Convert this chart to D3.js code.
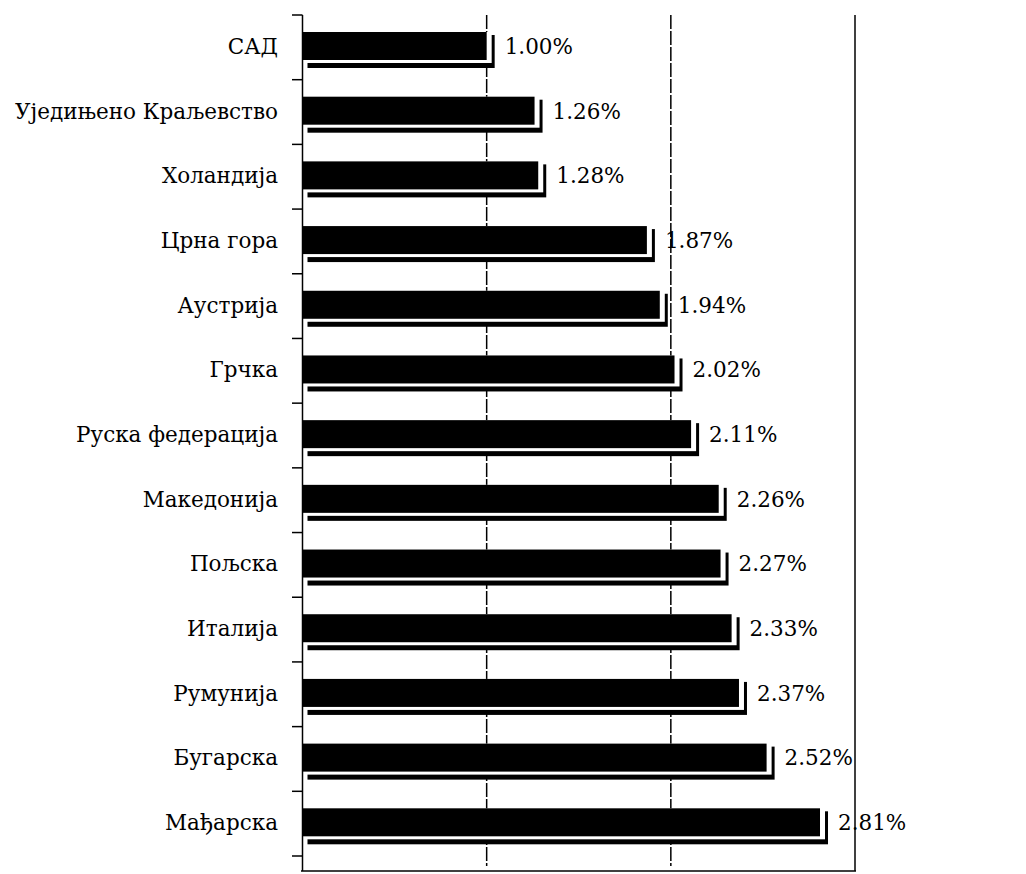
<!DOCTYPE html>
<html><head><meta charset="utf-8">
<script src="https://cdn.jsdelivr.net/npm/d3@7/dist/d3.min.js"></script>
<style>body{margin:0;background:#fff}svg{display:block}</style>
</head><body><svg id="c" width="1026" height="874"></svg>
<script>
const categories = ["САД","Уједињено Краљевство","Холандија","Црна гора","Аустрија","Грчка","Руска федерација","Македонија","Пољска","Италија","Румунија","Бугарска","Мађарска"];
const values = [1.00,1.26,1.28,1.87,1.94,2.02,2.11,2.26,2.27,2.33,2.37,2.52,2.81];
const valueLabels = ["1.00%","1.26%","1.28%","1.87%","1.94%","2.02%","2.11%","2.26%","2.27%","2.33%","2.37%","2.52%","2.81%"];
const xTicks = [1,2,3];

const svg = d3.select("#c");
const x = d3.scaleLinear().domain([0,3]).range([302.5,855]);
const y = d3.scaleBand().domain(categories).range([15,856]).paddingInner(0).paddingOuter(0);
const axisBottom = 871;
const font = "'DejaVu Serif', serif";
const fs = 21.5;

// gridlines
xTicks.forEach(t=>{
  svg.append("line").attr("x1",x(t)).attr("x2",x(t))
    .attr("y1",15).attr("y2", t===3?axisBottom:866)
    .attr("stroke","#000").attr("stroke-width",1.5)
    .attr("stroke-dasharray", t===3?null:"14,2");
});

// bars
const bw = y.bandwidth();
const g = svg.append("g");
categories.forEach((c,i)=>{
  const top = y(c)+17, h = 28, x0 = x(0), x1 = x(values[i]);
  g.append("rect").attr("x",x0+5).attr("y",top+3).attr("width",x1-x0+3).attr("height",h+5).attr("fill","#000");
  g.append("rect").attr("x",x0).attr("y",top).attr("width",x1-x0+5).attr("height",h+3).attr("fill","#fff");
  g.append("rect").attr("x",x0).attr("y",top).attr("width",x1-x0).attr("height",h).attr("fill","#000");
  svg.append("text").attr("x",x1+18).attr("y",y(c)+bw/2-1).attr("dominant-baseline","central")
    .attr("font-family",font).attr("font-size",fs).attr("fill","#000").text(valueLabels[i]);
});

// y axis
svg.append("line").attr("x1",302.5).attr("x2",302.5).attr("y1",15).attr("y2",axisBottom).attr("stroke","#000").attr("stroke-width",1.5);
svg.append("line").attr("x1",301).attr("x2",856).attr("y1",axisBottom).attr("y2",axisBottom).attr("stroke","#000").attr("stroke-width",1.5);
const tickYs = categories.map(c=>y(c)).concat([y.range()[1]]);
tickYs.forEach(t=>{
  svg.append("line").attr("x1",292).attr("x2",302.5).attr("y1",t).attr("y2",t).attr("stroke","#000").attr("stroke-width",1.5);
});
categories.forEach(c=>{
  svg.append("text").attr("x",278).attr("y",y(c)+bw/2-1).attr("text-anchor","end").attr("dominant-baseline","central")
    .attr("font-family",font).attr("font-size",fs).attr("fill","#000").text(c);
});
</script></body></html>
